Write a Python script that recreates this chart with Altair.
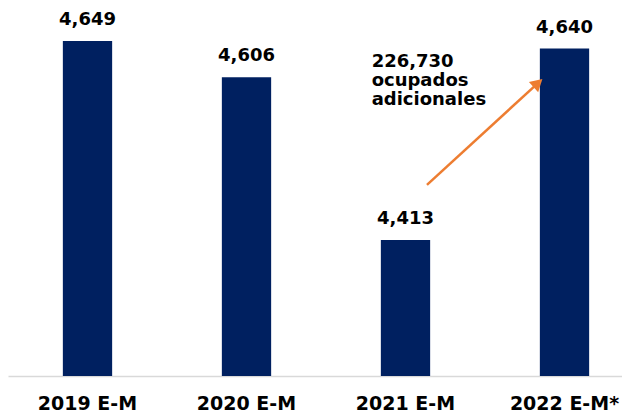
import altair as alt
import pandas as pd

# Data
categories = ["2019 E-M", "2020 E-M", "2021 E-M", "2022 E-M*"]
values = [4649, 4606, 4413, 4640]

# Annotation (in category-index units on x, data units on y)
note_lines = ["226,730", "ocupados", "adicionales"]
note_x = [2.287]
note_y = [4618]
arrow_x = [2.635, 3.333]
arrow_y = [4478.5, 4599]

Y_MIN = 4252
Y_MAX = 4688

df = pd.DataFrame({"periodo": categories, "valor": values})
df_arrow = pd.DataFrame({"xq": arrow_x, "yv": arrow_y})
df_head = pd.DataFrame({"xq": arrow_x[-1:], "yv": arrow_y[-1:]})
note_data = alt.Data(values=[{"xq": note_x[0], "yv": note_y[0], "txt": note_lines}])

FONT = "DejaVu Sans"
NAVY = "#002060"
ORANGE = "#ED7D31"

XRANGE = [0, 636]
yscale = alt.Scale(domain=[Y_MIN, Y_MAX], zero=False, nice=False)
xband = alt.Scale(paddingInner=0.69, paddingOuter=0.345, range=XRANGE)
xq_scale = alt.Scale(domain=[0, 4], nice=False, zero=False, range=XRANGE)

bars = alt.Chart(df).mark_bar(color=NAVY).encode(
    x=alt.X("periodo:N", sort=categories, scale=xband,
            axis=alt.Axis(title=None, labelAngle=0, ticks=False,
                          labelFont=FONT, labelFontWeight="bold",
                          labelFontSize=19, labelColor="black",
                          labelPadding=18, domainColor="#d9d9d9",
                          domainWidth=1.5, grid=False)),
    y=alt.Y("valor:Q", scale=yscale, axis=None),
    y2=alt.datum(Y_MIN),
)

labels = alt.Chart(df).mark_text(
    dy=-16, baseline="alphabetic", fontSize=18, fontWeight="bold",
    font=FONT, color="black"
).encode(
    x=alt.X("periodo:N", sort=categories, scale=xband, axis=None),
    y=alt.Y("valor:Q", scale=yscale, axis=None),
    text=alt.Text("valor:Q", format=","),
)

arrow = alt.Chart(df_arrow).mark_line(color=ORANGE, strokeWidth=2.5).encode(
    x=alt.X("xq:Q", scale=xq_scale, axis=None),
    y=alt.Y("yv:Q", scale=yscale, axis=None),
)

head = alt.Chart(df_head).mark_point(
    shape="triangle-up", filled=True, size=190, angle=47.6,
    color=ORANGE, opacity=1
).encode(
    x=alt.X("xq:Q", scale=xq_scale, axis=None),
    y=alt.Y("yv:Q", scale=yscale, axis=None),
)

note = alt.Chart(note_data).mark_text(
    align="left", baseline="alphabetic", lineHeight=19, fontSize=18,
    fontWeight="bold", font=FONT, color="black"
).encode(
    x=alt.X("xq:Q", scale=xq_scale, axis=None),
    y=alt.Y("yv:Q", scale=yscale, axis=None),
    text="txt:N",
)

chart = alt.layer(bars, labels, arrow, head, note).resolve_scale(
    x="independent"
).properties(
    width=614, height=368,
    padding={"left": 0, "top": 0, "right": 0, "bottom": 36},
    autosize=alt.AutoSizeParams(type="none"),
).configure_view(stroke=None)

chart.save("out.html", embed_options={"renderer": "svg", "actions": False})
